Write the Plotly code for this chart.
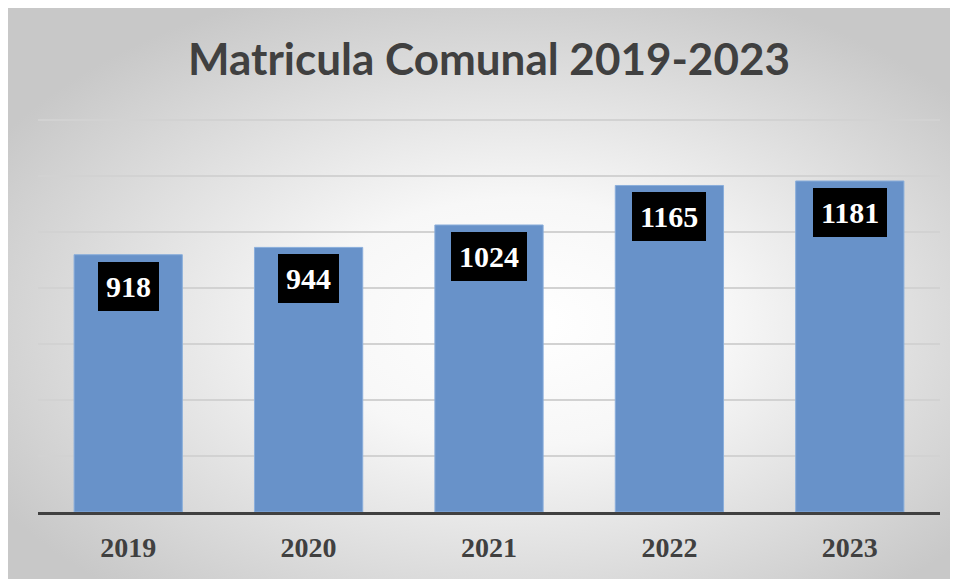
import base64
import plotly.graph_objects as go

years = ["2019", "2020", "2021", "2022", "2023"]
matricula = [918, 944, 1024, 1165, 1181]
title_text = "Matricula Comunal 2019-2023"

# page has an 8px body margin, so the figure itself is 950x571
W, H = 950, 571
L, R, T, B = 30, 18, 106, 67
plot_w = W - L - R
plot_h = H - T - B

svg = (
    '<svg xmlns="http://www.w3.org/2000/svg" width="950" height="571" preserveAspectRatio="none">'
    '<defs><radialGradient id="g" cx="52%" cy="55%" r="62%" fx="55%" fy="55%">'
    '<stop offset="0%" stop-color="#ffffff"/>'
    '<stop offset="35%" stop-color="#f7f7f7"/>'
    '<stop offset="100%" stop-color="#c8c8c8"/>'
    '</radialGradient></defs>'
    '<rect width="950" height="571" fill="url(#g)"/></svg>'
)
src = "data:image/svg+xml;base64," + base64.b64encode(svg.encode()).decode()

fig = go.Figure()
fig.add_trace(go.Bar(
    x=years, y=matricula, width=0.6,
    marker=dict(color="#6892c9", line=dict(color="#8aaedb", width=1)),
    hoverinfo="x+y",
))

for i, v in enumerate(matricula):
    fig.add_annotation(
        x=i, y=v, xref="x", yref="y", text=f"<b>{v}</b>", showarrow=False,
        yanchor="top", yshift=-7,
        font=dict(family="Liberation Serif", size=30, color="white"),
        bgcolor="black", borderpad=8, borderwidth=0,
    )

fig.add_layout_image(dict(
    source=src, xref="paper", yref="paper",
    x=-L / plot_w, y=1 + T / plot_h,
    sizex=W / plot_w, sizey=H / plot_h,
    xanchor="left", yanchor="top", sizing="stretch", layer="below",
))

fig.update_layout(
    width=W, height=H,
    margin=dict(l=L, r=R, t=T, b=B, autoexpand=False),
    paper_bgcolor="white", plot_bgcolor="rgba(0,0,0,0)",
    showlegend=False,
    title=dict(
        text=f"<b>{title_text}</b>", x=481 / W, xanchor="center",
        y=1 - 52 / H, yanchor="middle", yref="container",
        font=dict(family="Lato", size=44, color="#404040"),
        automargin=False,
    ),
    bargap=0.4,
)
fig.update_xaxes(
    type="category", automargin=False, range=[-0.5, 4.5],
    showline=True, linecolor="#404040", linewidth=3,
    ticks="", ticklabelstandoff=8,
    tickfont=dict(family="Liberation Serif", size=28, color="#404040", weight="bold"),
    showgrid=False,
)
fig.update_yaxes(
    automargin=False,
    range=[0, 1420], dtick=200, showticklabels=False,
    showgrid=True, gridcolor="#d2d2d2", gridwidth=1.5, zeroline=False,
)

fig.write_html("out.html")
